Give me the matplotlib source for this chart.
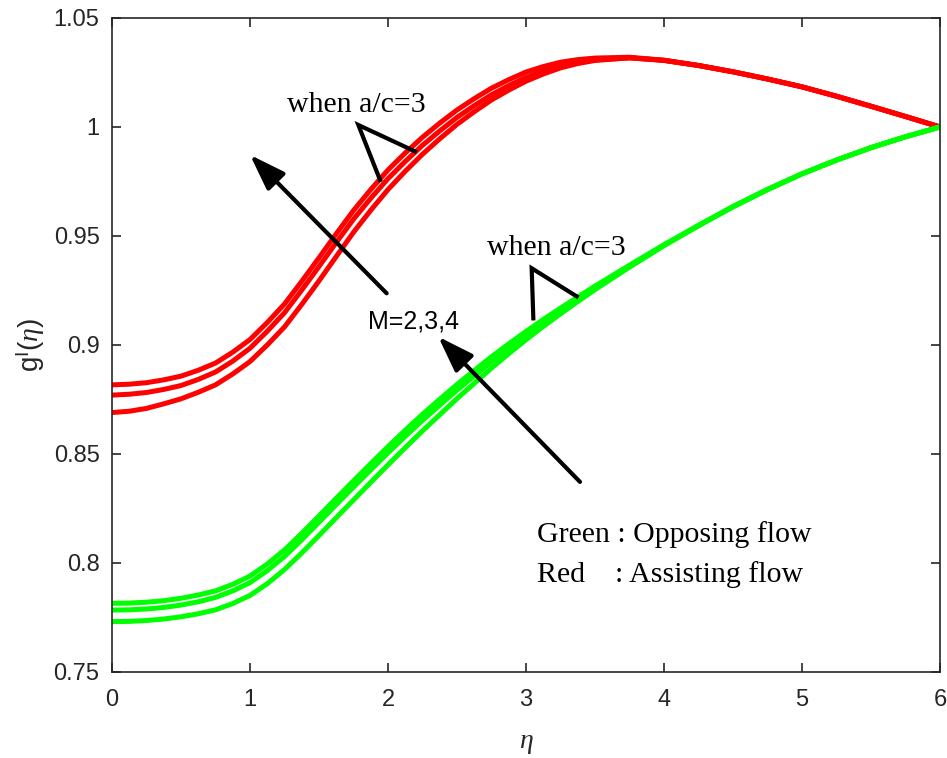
import matplotlib
matplotlib.use("Agg")
import matplotlib.pyplot as plt
from matplotlib.patches import ArrowStyle

plt.rcParams['font.family'] = ['Liberation Sans', 'DejaVu Sans']
plt.rcParams['mathtext.fontset'] = 'custom'
plt.rcParams['mathtext.rm'] = 'Liberation Sans'
plt.rcParams['mathtext.sf'] = 'Liberation Sans'
plt.rcParams['mathtext.it'] = 'Liberation Serif:italic'

# similarity variable eta
eta = [0.0, 0.125, 0.25, 0.375, 0.5, 0.625, 0.75, 0.875, 1.0, 1.125, 1.25,
       1.375, 1.5, 1.625, 1.75, 1.875, 2.0, 2.125, 2.25, 2.375, 2.5, 2.625,
       2.75, 2.875, 3.0, 3.125, 3.25, 3.375, 3.5, 3.75, 4.0, 4.25, 4.5, 4.75,
       5.0, 5.25, 5.5, 5.75, 6.0]

# assisting flow (red), M = 2, 3, 4
assist_m2 = [0.8817, 0.8820, 0.8827, 0.8840, 0.8857, 0.8884, 0.8917, 0.8967,
             0.9025, 0.9103, 0.9188, 0.9292, 0.9400, 0.9510, 0.9617, 0.9713,
             0.9803, 0.9881, 0.9953, 1.0018, 1.0078, 1.0130, 1.0178, 1.0217,
             1.0252, 1.0277, 1.0297, 1.0309, 1.0316, 1.0320, 1.0306, 1.0282,
             1.0253, 1.0220, 1.0184, 1.0141, 1.0095, 1.0048, 1.0000]
assist_m3 = [0.8770, 0.8774, 0.8782, 0.8796, 0.8814, 0.8842, 0.8876, 0.8926,
             0.8985, 0.9063, 0.9148, 0.9252, 0.9360, 0.9470, 0.9577, 0.9673,
             0.9763, 0.9842, 0.9916, 0.9982, 1.0044, 1.0098, 1.0148, 1.0190,
             1.0228, 1.0257, 1.0281, 1.0297, 1.0308, 1.0317, 1.0305, 1.0282,
             1.0253, 1.0220, 1.0184, 1.0141, 1.0095, 1.0048, 1.0000]
assist_m4 = [0.8690, 0.8696, 0.8709, 0.8730, 0.8753, 0.8783, 0.8817, 0.8867,
             0.8924, 0.9000, 0.9083, 0.9186, 0.9294, 0.9406, 0.9517, 0.9618,
             0.9713, 0.9797, 0.9875, 0.9946, 1.0012, 1.0070, 1.0124, 1.0169,
             1.0210, 1.0243, 1.0271, 1.0291, 1.0305, 1.0317, 1.0306, 1.0282,
             1.0253, 1.0220, 1.0184, 1.0141, 1.0095, 1.0048, 1.0000]

# opposing flow (green), M = 2, 3, 4
oppose_m2 = [0.7815, 0.7816, 0.7820, 0.7827, 0.7838, 0.7853, 0.7872, 0.7902,
             0.7940, 0.7995, 0.8060, 0.8136, 0.8216, 0.8297, 0.8377, 0.8456,
             0.8534, 0.8609, 0.8682, 0.8751, 0.8819, 0.8883, 0.8946, 0.9005,
             0.9062, 0.9117, 0.9169, 0.9220, 0.9270, 0.9366, 0.9460, 0.9549,
             0.9635, 0.9713, 0.9785, 0.9848, 0.9905, 0.9955, 1.0000]
oppose_m3 = [0.7784, 0.7785, 0.7789, 0.7796, 0.7807, 0.7822, 0.7842, 0.7872,
             0.7910, 0.7965, 0.8030, 0.8106, 0.8187, 0.8268, 0.8348, 0.8427,
             0.8505, 0.8581, 0.8654, 0.8724, 0.8793, 0.8858, 0.8923, 0.8984,
             0.9043, 0.9100, 0.9155, 0.9208, 0.9260, 0.9360, 0.9457, 0.9547,
             0.9634, 0.9713, 0.9785, 0.9848, 0.9905, 0.9955, 1.0000]
oppose_m4 = [0.7731, 0.7732, 0.7736, 0.7743, 0.7753, 0.7767, 0.7785, 0.7814,
             0.7851, 0.7905, 0.7970, 0.8046, 0.8126, 0.8208, 0.8289, 0.8370,
             0.8450, 0.8529, 0.8606, 0.8680, 0.8754, 0.8824, 0.8894, 0.8960,
             0.9024, 0.9085, 0.9143, 0.9199, 0.9254, 0.9357, 0.9456, 0.9547,
             0.9634, 0.9713, 0.9785, 0.9848, 0.9905, 0.9955, 1.0000]

x_ticks = [0, 1, 2, 3, 4, 5, 6]
y_ticks = [0.75, 0.8, 0.85, 0.9, 0.95, 1.0, 1.05]
y_tick_labels = ['0.75', '0.8', '0.85', '0.9', '0.95', '1', '1.05']

fig = plt.figure(figsize=(9.47, 7.58), dpi=100)
ax = fig.add_axes([0.1183, 0.1135, 0.8743, 0.8628])

lw = 3.6
for ys in (assist_m2, assist_m3, assist_m4):
    ax.plot(eta, ys, color='#ff0000', lw=lw, solid_capstyle='butt',
            solid_joinstyle='round')
for ys in (oppose_m2, oppose_m3, oppose_m4):
    ax.plot(eta, ys, color='#00ff00', lw=lw, solid_capstyle='butt',
            solid_joinstyle='round')

ax.set_xlim(0, 6)
ax.set_ylim(0.75, 1.05)
ax.set_xticks(x_ticks)
ax.set_xticklabels([str(t) for t in x_ticks])
ax.set_yticks(y_ticks)
ax.set_yticklabels(y_tick_labels)

axis_color = '#262626'
for sp in ax.spines.values():
    sp.set_color(axis_color)
    sp.set_linewidth(1.2)
ax.tick_params(direction='in', length=6.5, width=1.2, color=axis_color,
               labelsize=17, labelcolor=axis_color, top=True, right=True)
ax.tick_params(axis='x', pad=12)
ax.tick_params(axis='y', pad=9)

ax.set_xlabel(r'$\eta$', fontsize=20, color=axis_color, labelpad=14)
ax.set_ylabel(r'g$^{\mathsf{I}}$($\eta$)', fontsize=20, color=axis_color,
              labelpad=5)

# arrows showing the effect of increasing M
head = ArrowStyle('-|>', head_length=1.1, head_width=0.38)
arrow_kw = dict(arrowstyle=head, mutation_scale=20, lw=3, color='black',
                shrinkA=0, shrinkB=0)
ax.annotate('', xy=(1.0, 0.9872), xytext=(1.99, 0.9237), arrowprops=arrow_kw)
ax.annotate('', xy=(2.364, 0.9038), xytext=(3.391, 0.8372), arrowprops=arrow_kw)

ax.text(1.857, 0.9077, 'M=2,3,4', fontsize=18, color='black',
        ha='left', va='baseline')

serif = ['Liberation Serif', 'DejaVu Serif']
ax.text(1.268, 1.0069, 'when a/c=3', fontsize=21.5, family=serif,
        ha='left', va='baseline')
ax.plot([1.942, 1.785, 2.196], [0.9757, 1.0009, 0.9888], color='black', lw=3,
        solid_joinstyle='miter')

ax.text(2.72, 0.9413, 'when a/c=3', fontsize=21.5, family=serif,
        ha='left', va='baseline')
ax.plot([3.053, 3.041, 3.367], [0.9122, 0.9352, 0.9223], color='black', lw=3,
        solid_joinstyle='miter')

ax.text(3.078, 0.8098, 'Green : Opposing flow', fontsize=21.5, family=serif,
        ha='left', va='baseline')
ax.text(3.078, 0.7914, 'Red    : Assisting flow', fontsize=21.5, family=serif,
        ha='left', va='baseline')

fig.savefig('out.png', dpi=100, facecolor='white')
